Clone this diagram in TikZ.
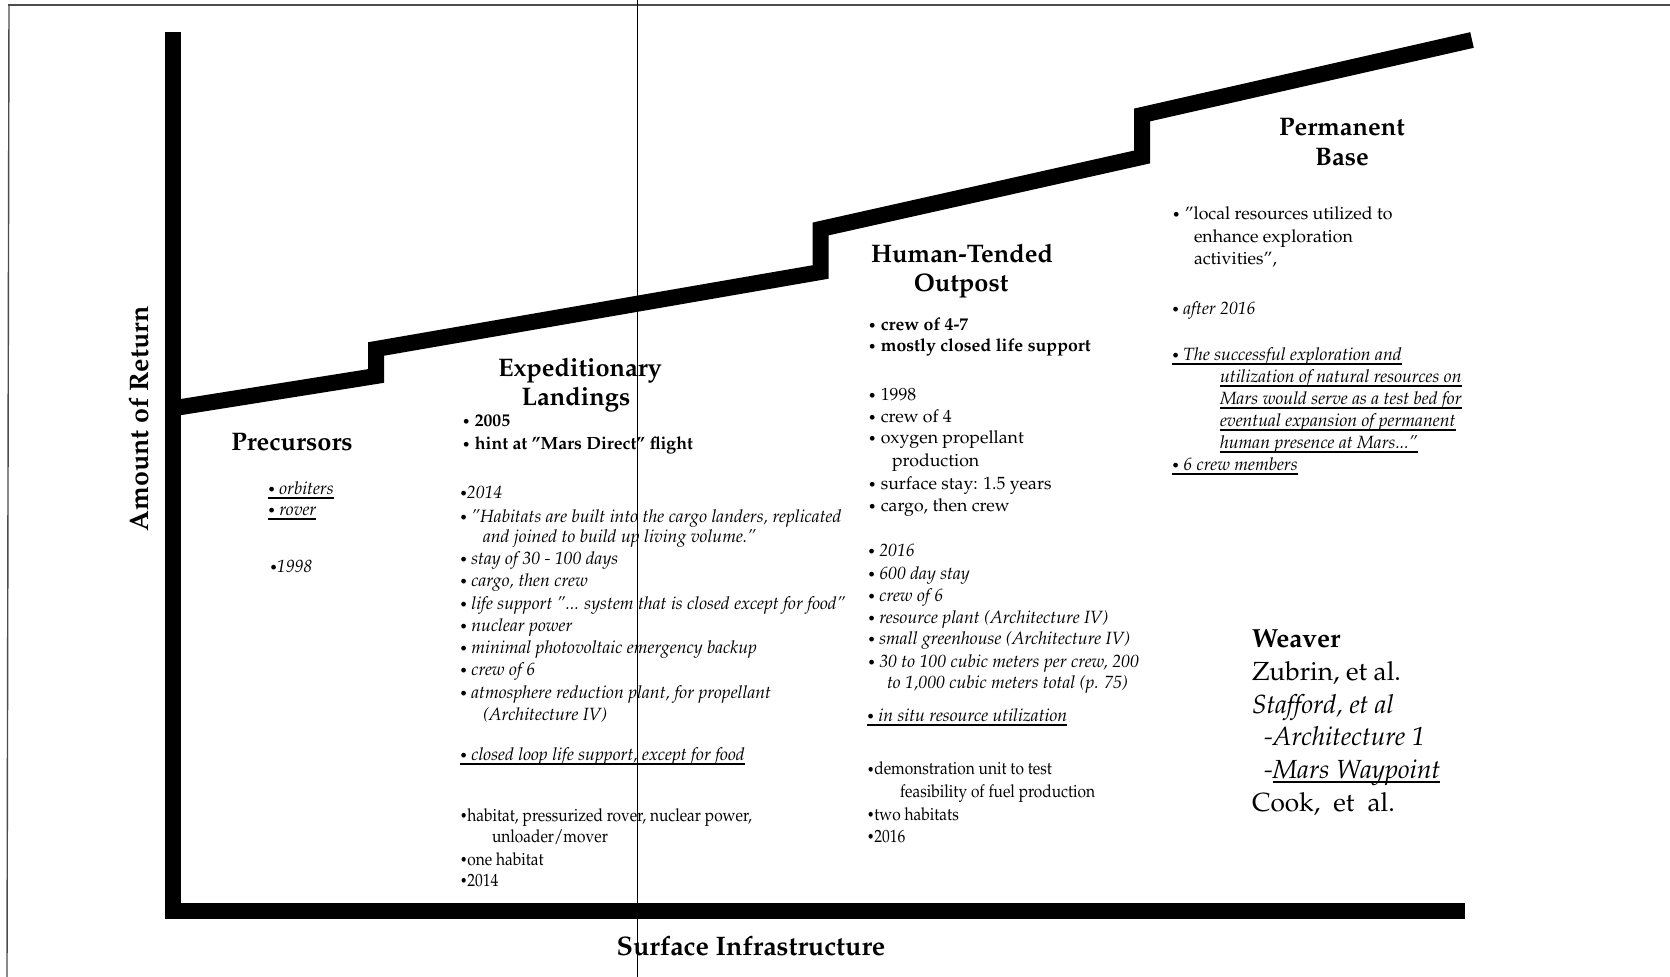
\documentclass[tikz,border=0pt]{standalone}
\usepackage[T1]{fontenc}
\renewcommand{\rmdefault}{ppl}
\usepackage{graphicx}
\newcommand{\TL}[5][]{\node[txt,#1] (#2) at (#3,#4) {#5};}
\newcommand{\cond}[1]{\scalebox{0.875}[1]{#1}}
\newcommand{\bul}{\raisebox{0.04em}{\scalebox{0.78}{\textbullet}}}
\newcommand{\myul}[1]{\setbox0\hbox{#1}\leavevmode\rlap{\rule[-2pt]{\wd0}{0.85pt}}\box0}
\newcommand{\myulB}[1]{\setbox0\hbox{#1}\leavevmode\rlap{\rule[-2.5pt]{\wd0}{0.9pt}}\box0}
\begin{document}
\begin{tikzpicture}[x=0.5pt,y=-0.5pt,
  bar/.style={line width=8pt,line join=miter,line cap=butt},
  hair/.style={line width=0.7pt},
  txt/.style={anchor=base west,inner sep=0pt,outer sep=0pt,font=\fontsize{8.85}{11}\selectfont},
  boldtxt/.style={font=\fontsize{8.85}{11}\selectfont\bfseries},
  itxt/.style={font=\fontsize{8.85}{11}\selectfont\itshape},
  hd/.style={anchor=base,inner sep=0pt,font=\fontsize{12.7}{14}\selectfont\bfseries},
  weav/.style={font=\fontsize{13.1}{15}\selectfont},
  axlab/.style={inner sep=0pt,font=\fontsize{13.4}{15}\selectfont\bfseries}]
\useasboundingbox (0,0) rectangle (1670,977);
\fill[white] (0,0) rectangle (1670,977);
% frame hairlines
\draw[hair,black!70] (8,5) -- (1670,5);
\draw[hair,black!70] (9,5) -- (7,977);
\draw[hair] (637.5,0) -- (637.5,977);
% axes
\draw[bar] (173,32) -- (173,911) -- (1465,911);
% staircase
\draw[bar] (175,408) -- (376,376) -- (376,349) -- (820.5,272) -- (820.5,229) -- (1142,157) -- (1142,115) -- (1472,40);
% axis labels
\node[axlab,rotate=90,anchor=base] (ylab) at (148,419) {Amount of Return};
\node[axlab,anchor=base] (xlab) at (751,955) {Surface Infrastructure};
% Precursors
\node[hd] (pre) at (292,451) {Precursors};
\TL[itxt]{pre1}{268}{495}{\myul{\bul\ orbiters}}
\TL[itxt]{pre2}{268}{516}{\myul{\bul\ rover}}
\TL[itxt]{pre3}{270}{573}{\bul1998}
% Expeditionary Landings
\node[hd] (exA) at (580,377) {Expeditionary};
\node[hd] (exB) at (576,406) {Landings};
\TL[boldtxt]{ex1}{462}{427}{\bul\ 2005}
\TL[boldtxt]{ex2}{462}{450}{\bul\ hint at ''Mars Direct'' flight}
\TL[itxt]{ex3}{460}{499}{\bul2014}
\TL[itxt]{ex4}{460}{523}{\bul\ ''Habitats are built into the cargo landers, replicated}
\TL[itxt]{ex5}{483}{543}{and joined to build up living volume.''}
\TL[itxt]{ex6}{460}{565}{\bul\ stay of 30 - 100 days}
\TL[itxt]{ex7}{460}{587}{\bul\ cargo, then crew}
\TL[itxt]{ex8}{460}{610}{\bul\ life support ''... system that is closed except for food''}
\TL[itxt]{ex9}{460}{632}{\bul\ nuclear power}
\TL[itxt]{ex10}{460}{654}{\bul\ minimal photovoltaic emergency backup}
\TL[itxt]{ex11}{460}{676}{\bul\ crew of 6}
\TL[itxt]{ex12}{460}{699}{\bul\ atmosphere reduction plant, for propellant}
\TL[itxt]{ex13}{483}{720}{(Architecture IV)}
\TL[itxt]{ex14}{460}{761}{\myul{\bul\ closed loop life support, except for food}}
\TL{ex15}{460}{821}{\cond{\bul habitat, pressurized rover, nuclear power,}}
\TL{ex16}{492}{842}{\cond{unloader/mover}}
\TL{ex17}{460}{865}{\cond{\bul one habitat}}
\TL{ex18}{460}{886}{\cond{\bul 2014}}
% Human-Tended Outpost
\node[hd] (huA) at (962,263) {Human-Tended};
\node[hd] (huB) at (961,292) {Outpost};
\TL[boldtxt]{hu1}{868}{331}{\bul\ crew of 4-7}
\TL[boldtxt]{hu2}{868}{352}{\bul\ mostly closed life support}
\TL{hu3}{868}{401}{\bul\ 1998}
\TL{hu4}{868}{423}{\bul\ crew of 4}
\TL{hu5}{868}{444}{\bul\ oxygen propellant}
\TL{hu6}{892}{467}{production}
\TL{hu7}{868}{490}{\bul\ surface stay: 1.5 years}
\TL{hu8}{868}{512}{\bul\ cargo, then crew}
\TL[itxt]{hu9}{868}{557}{\bul\ 2016}
\TL[itxt]{hu10}{868}{580}{\bul\ 600 day stay}
\TL[itxt]{hu11}{868}{602}{\bul\ crew of 6}
\TL[itxt]{hu12}{868}{624}{\bul\ resource plant (Architecture IV)}
\TL[itxt]{hu13}{868}{645}{\bul\ small greenhouse (Architecture IV)}
\TL[itxt]{hu14}{868}{668}{\bul\ 30 to 100 cubic meters per crew, 200}
\TL[itxt]{hu15}{887}{689}{to 1,000 cubic meters total (p. 75)}
\TL[itxt]{hu16}{867}{722}{\myul{\bul\ in situ resource utilization}}
\TL{hu17}{867}{775}{\cond{\bul demonstration unit to test}}
\TL{hu18}{900}{797}{\cond{feasibility of fuel production}}
\TL{hu19}{867}{820}{\cond{\bul two habitats}}
\TL{hu20}{867}{842}{\cond{\bul 2016}}
% Permanent Base
\node[hd] (peA) at (1342,136) {Permanent};
\node[hd] (peB) at (1342,166) {Base};
\TL{pe1}{1172}{220}{\bul\ ''local resources utilized to}
\TL{pe2}{1194}{243}{enhance exploration}
\TL{pe3}{1194}{265}{activities'',}
\TL[itxt]{pe4}{1172}{315}{\bul\ after 2016}
\TL[itxt]{pe5}{1172}{361}{\myul{\bul\ The successful exploration and}}
\TL[itxt]{pe6}{1220}{383}{\myul{utilization of natural resources on}}
\TL[itxt]{pe7}{1220}{405}{\myul{Mars would serve as a test bed for}}
\TL[itxt]{pe8}{1220}{427}{\myul{eventual expansion of permanent}}
\TL[itxt]{pe9}{1220}{449}{\myul{human presence at Mars...''}}
\TL[itxt]{pe10}{1172}{471}{\myul{\bul\ 6 crew members}}
% sources
\TL[weav]{so1}{1252}{648}{\bfseries Weaver}
\TL[weav]{so2}{1252}{681}{Zubrin, et al.}
\TL[weav]{so3}{1252}{713}{\itshape Stafford, et al}
\TL[weav]{so4}{1264}{746}{\itshape -Architecture 1}
\TL[weav]{so5}{1264}{778}{\itshape -\myulB{Mars Waypoint}}
\TL[weav]{so6}{1252}{811}{Cook,\ \ et\ \ al.}
\end{tikzpicture}
\end{document}
